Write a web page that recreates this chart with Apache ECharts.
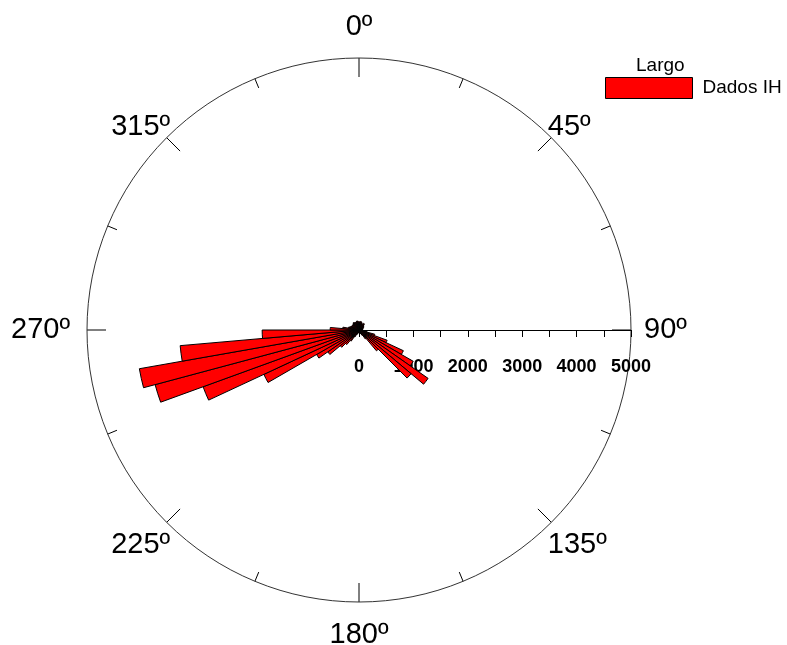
<!DOCTYPE html>
<html>
<head>
<meta charset="utf-8">
<script src="https://cdn.jsdelivr.net/npm/echarts@6/dist/echarts.min.js"></script>
<style>html,body{margin:0;padding:0;background:#fff}#c{width:787px;height:645px}</style>
</head>
<body>
<div id="c"></div>
<script>
// ---- data ----
const binStarts = [0,5,10,15,20,25,30,35,40,45,50,55,60,65,70,75,80,85,
  90,95,100,105,110,115,120,125,130,135,140,145,150,155,160,165,170,175,
  180,185,190,195,200,205,210,215,220,225,230,235,240,245,250,255,260,265,
  270,275,280,285,290,295,300,305,310,315,320,325,330,335,340,345,350,355];
const counts = [150,150,160,150,140,120,130,150,140,120,110,100,90,80,80,70,60,50,
  60,80,150,300,550,900,1150,1550,1250,500,200,120,80,60,50,40,40,40,
  40,50,50,60,80,100,150,250,350,450,700,900,1930,3050,3880,4100,3300,1780,
  530,300,200,180,160,150,150,140,150,160,170,160,150,150,160,170,160,150];
const directionLabels = ['0º','45º','90º','135º','180º','225º','270º','315º'];
const radiusMax = 5000;
const radiusStep = 1000;
const seriesName = 'Dados IH';
const legendTitle = 'Largo';

// ---- chart ----
const FONT = "'Liberation Sans', Arial, sans-serif";
const richPos = ['t','d','r','db','b','db','l','d'];
const base = {fontFamily: FONT, fontSize: 29, color: '#000'};
const chart = echarts.init(document.getElementById('c'), null, {renderer: 'canvas'});
chart.setOption({
  animation: false,
  backgroundColor: '#fff',
  title: {text: legendTitle, left: 636, top: 56, padding: 0,
    textStyle: {fontFamily: FONT, fontSize: 19, fontWeight: 'normal', color: '#000'}},
  legend: {data: [seriesName], left: 605, top: 77, padding: 0, itemWidth: 87, itemHeight: 21, icon: 'rect',
    itemStyle: {borderColor: '#000', borderWidth: 1},
    textStyle: {fontFamily: FONT, fontSize: 19, color: '#000', padding: [0,0,0,5]}},
  polar: [{center: [359, 330], radius: 272}, {center: [359, 330], radius: 272}],
  angleAxis: [
    {polarIndex: 0, type: 'category', data: binStarts, startAngle: 90, clockwise: true, boundaryGap: true,
     axisLine: {show: false}, axisTick: {show: false}, axisLabel: {show: false}, splitLine: {show: false}},
    {polarIndex: 1, type: 'value', min: 0, max: 360, interval: 45, startAngle: 90, clockwise: true,
     axisLine: {show: true, lineStyle: {color: '#333', width: 1}},
     axisTick: {show: true, inside: true, length: 19, lineStyle: {color: '#000'}},
     minorTick: {show: true, splitNumber: 2, length: 10, lineStyle: {color: '#000'}},
     splitLine: {show: false}, minorSplitLine: {show: false},
     axisLabel: {margin: -5, fontFamily: FONT, fontSize: 29, color: '#000',
       formatter: function (v) {
         if (v >= 360) return '';
         const i = Math.round(v / 45) % 8;
         return '{' + richPos[i] + '|' + directionLabels[i] + '}';
       },
       rich: {
         t: Object.assign({padding: [0,0,22,0]}, base),
         r: Object.assign({padding: [0,0,0,18]}, base),
         b: Object.assign({padding: [23,0,0,0]}, base),
         l: Object.assign({padding: [0,22,0,0]}, base),
         d: Object.assign({}, base),
         db: Object.assign({padding: [12,0,0,0]}, base)
       }}}
  ],
  radiusAxis: [
    {polarIndex: 0, type: 'value', min: 0, max: radiusMax, show: false},
    {polarIndex: 1, type: 'value', min: 0, max: 1, show: false}
  ],
  grid: {left: 359, width: 272, top: 10, height: 320},
  xAxis: {type: 'value', min: 0, max: radiusMax, interval: radiusStep, position: 'bottom',
    axisLine: {show: true, onZero: false, lineStyle: {color: '#000', width: 1}},
    axisTick: {show: true, length: 7, lineStyle: {color: '#000'}},
    minorTick: {show: true, splitNumber: 2, length: 7, lineStyle: {color: '#000'}},
    splitLine: {show: false}, minorSplitLine: {show: false},
    axisLabel: {fontFamily: FONT, fontSize: 18, fontWeight: 'bold', color: '#000', margin: 28,
      formatter: function (v) { return String(v); }}},
  yAxis: {type: 'value', show: false},
  series: [{type: 'bar', name: seriesName, coordinateSystem: 'polar', polarIndex: 0,
    data: counts, barCategoryGap: '0%',
    itemStyle: {color: '#ff0000', borderColor: '#000', borderWidth: 1}, z: 3}]
});
</script>
</body>
</html>
